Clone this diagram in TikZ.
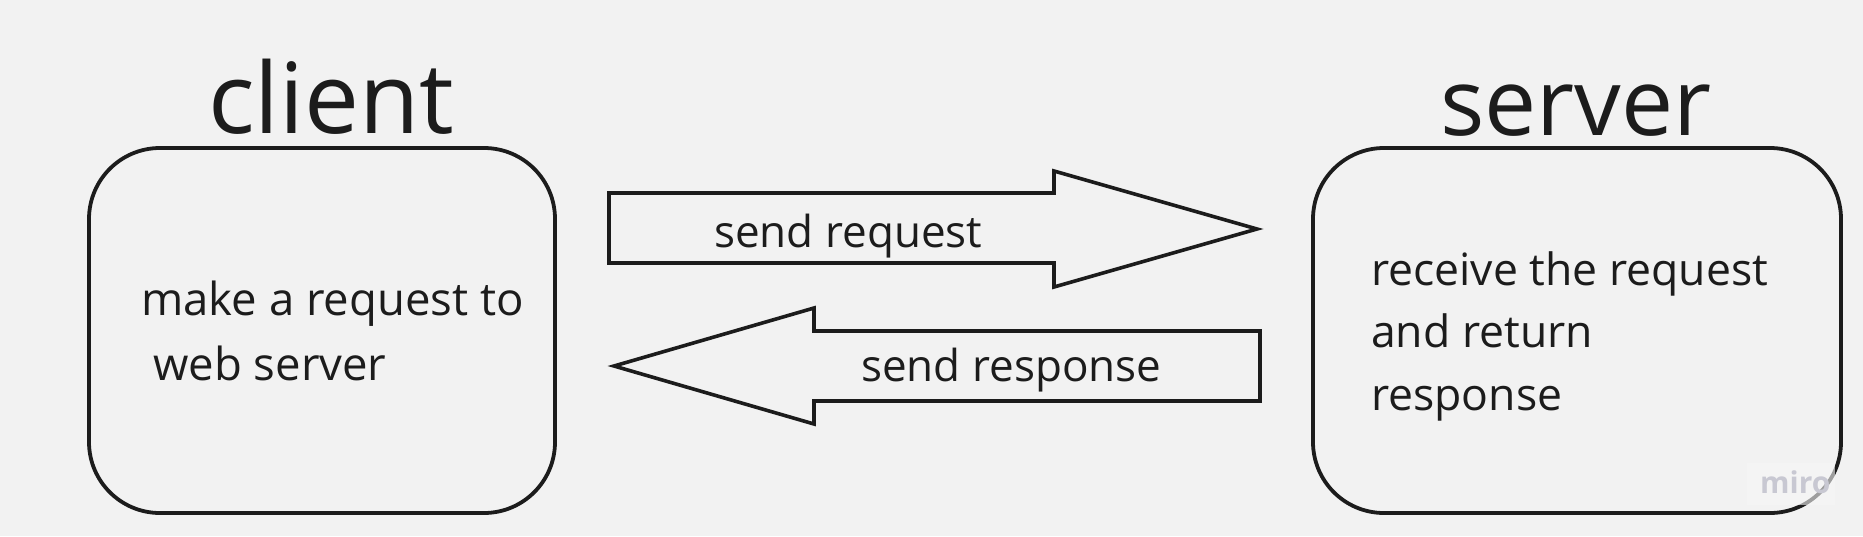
\documentclass[tikz,border=0pt]{standalone}
\usepackage{fontspec}
\setmainfont{Open Sans}
\definecolor{bgc}{HTML}{F2F2F2}
\definecolor{ink}{HTML}{1C1C1C}
\definecolor{wmark}{HTML}{C8C8D2}
\definecolor{wbg}{HTML}{F6F6F6}
\begin{document}
\begin{tikzpicture}[x=1pt,y=-1pt,
  boxstyle/.style={draw=ink,line width=3.8pt,rounded corners=71pt,inner sep=0pt,fill=none},
  blockarrow/.style={draw=ink,line width=3.6pt,line join=miter},
  titletext/.style={inner sep=0pt,anchor=base west,text=ink},
  bodytext/.style={inner sep=0pt,anchor=base west,text=ink},
  arrowtext/.style={inner sep=0pt,anchor=base west,text=ink,font=\fontsize{44}{52}\selectfont}]
\fill[bgc] (0,0) rectangle (1863,536);
\useasboundingbox (0,0) rectangle (1863,536);

% titles
\node[titletext,font=\fontsize{98}{110}\selectfont] (clienttitle) at (208,133) {client};
\node[titletext,font=\fontsize{93}{105}\selectfont] (servertitle) at (1440,135) {server};

% boxes
\node[boxstyle,minimum width=466pt,minimum height=365pt] (client) at (322,330.5) {};
\node[boxstyle,minimum width=528pt,minimum height=365pt] (server) at (1577,330.5) {};

% client text
\node[bodytext,font=\fontsize{45.5}{54}\selectfont] (c1) at (141,315) {make a request to};
\node[bodytext,font=\fontsize{45.5}{54}\selectfont] (c2) at (153,380) {web server};

% server text
\node[bodytext,font=\fontsize{44.5}{54}\selectfont] (s1) at (1371,285) {receive the request};
\node[bodytext,font=\fontsize{44.5}{54}\selectfont] (s2) at (1371,347) {and return};
\node[bodytext,font=\fontsize{44.5}{54}\selectfont] (s3) at (1371,410) {response};

% request arrow
\draw[blockarrow] (609,193) -- (1054,193) -- (1054,171) -- (1257,229) -- (1054,287) -- (1054,263) -- (609,263) -- cycle;
\node[arrowtext] (req) at (714,247) {send request};

% response arrow
\draw[blockarrow] (1260,331) -- (814,331) -- (814,308) -- (614,366) -- (814,424) -- (814,401) -- (1260,401) -- cycle;
\node[arrowtext] (resp) at (861,381) {send response};

% watermark
\fill[wbg,opacity=0.6] (1747,463) rectangle (1835,505);
\node[inner sep=0pt,anchor=base west,text=wmark,font=\fontsize{30}{36}\selectfont\bfseries] (miro) at (1760,493) {miro};
\end{tikzpicture}
\end{document}
